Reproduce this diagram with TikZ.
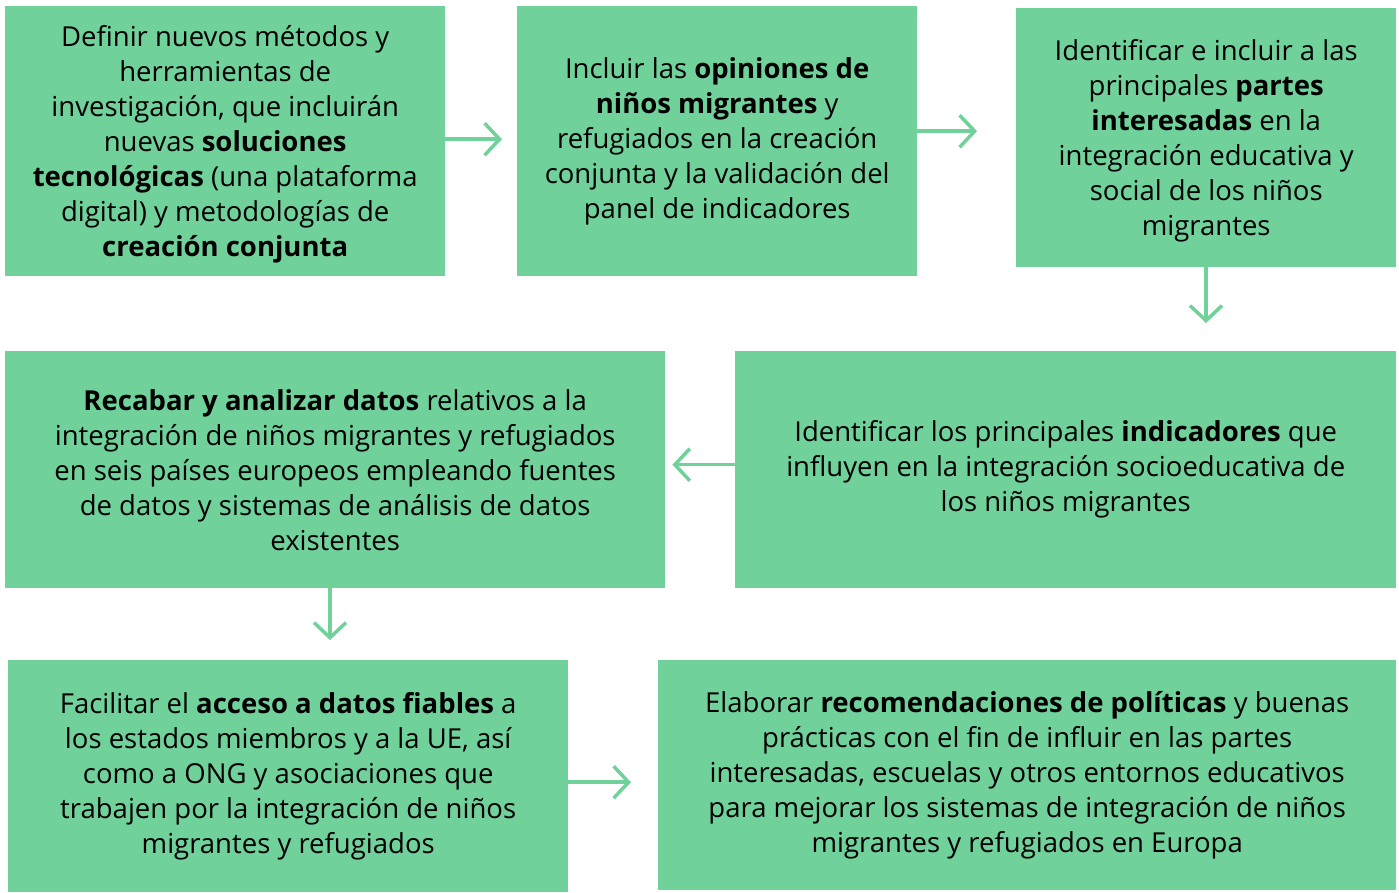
\documentclass[tikz,border=0pt]{standalone}
\usepackage{fontspec}
\setmainfont{Open Sans}
\usetikzlibrary{arrows.meta}
\usetikzlibrary{calc}
\definecolor{boxgreen}{RGB}{112,209,155}

\begin{document}
\begin{tikzpicture}
  [x=1pt,y=-1pt,
  box/.style={rectangle,fill=boxgreen,draw=none,inner sep=0pt,anchor=north west,align=center,font=\fontsize{27.5}{35}\selectfont},
  flow/.style={-{Straight Barb[length=15pt,width=32pt]},boxgreen,line width=3.5pt}]
  \useasboundingbox (0,0) rectangle (1399,892);

  \node[box,minimum width=440,minimum height=270,text depth=-3pt] (b1) at (5,6)
    {Definir nuevos métodos y\\herramientas de\\investigación, que incluirán\\nuevas \textbf{soluciones}\\\textbf{tecnológicas} (una plataforma\\digital) y metodologías de\\\textbf{creación conjunta}};
  \node[box,minimum width=400,minimum height=270] (b2) at (517,6)
    {Incluir las \textbf{opiniones de}\\\textbf{niños migrantes} y\\refugiados en la creación\\conjunta y la validación del\\panel de indicadores};
  \node[box,minimum width=380,minimum height=259,text depth=-3pt] (b3) at (1016,8)
    {Identificar e incluir a las\\principales \textbf{partes}\\\textbf{interesadas} en la\\integración educativa y\\social de los niños\\migrantes};

  \node[box,minimum width=661,minimum height=237] (b4) at (735,351)
    {Identificar los principales \textbf{indicadores} que\\influyen en la integración socioeducativa de\\los niños migrantes};
  \node[box,minimum width=660,minimum height=237] (b5) at (5,351)
    {\textbf{Recabar y analizar datos} relativos a la\\integración de niños migrantes y refugiados\\en seis países europeos empleando fuentes\\de datos y sistemas de análisis de datos\\existentes};

  \node[box,minimum width=560,minimum height=232] (b6) at (8,660)
    {Facilitar el \textbf{acceso a datos fiables} a\\los estados miembros y a la UE, así\\como a ONG y asociaciones que\\trabajen por la integración de niños\\migrantes y refugiados};
  \node[box,minimum width=738,minimum height=230] (b7) at (658,660)
    {Elaborar \textbf{recomendaciones de políticas} y buenas\\prácticas con el fin de influir en las partes\\interesadas, escuelas y otros entornos educativos\\para mejorar los sistemas de integración de niños\\migrantes y refugiados en Europa};

  \draw [flow,shorten >=15pt] ($(b1.east)+(0,-2)$) -- ($(b2.west)+(0,-2)$);
  \draw [flow,shorten >=39pt] ($(b2.east)+(0,-10)$) -- ($(b2.east -| b3.west)+(0,-10)$);
  \draw [flow,shorten >=28pt] (b3.south -| 1206,0) -- (b4.north -| 1206,0);
  \draw [flow,shorten >=7pt] ($(b4.west)+(0,-5)$) -- ($(b4.west -| b5.east)+(0,-5)$);
  \draw [flow,shorten >=20pt] (b5.south -| 330,0) -- (b6.north -| 330,0);
  \draw [flow,shorten >=27pt] ($(b6.east)+(0,6)$) -- ($(b6.east -| b7.west)+(0,6)$);

\end{tikzpicture}
\end{document}
